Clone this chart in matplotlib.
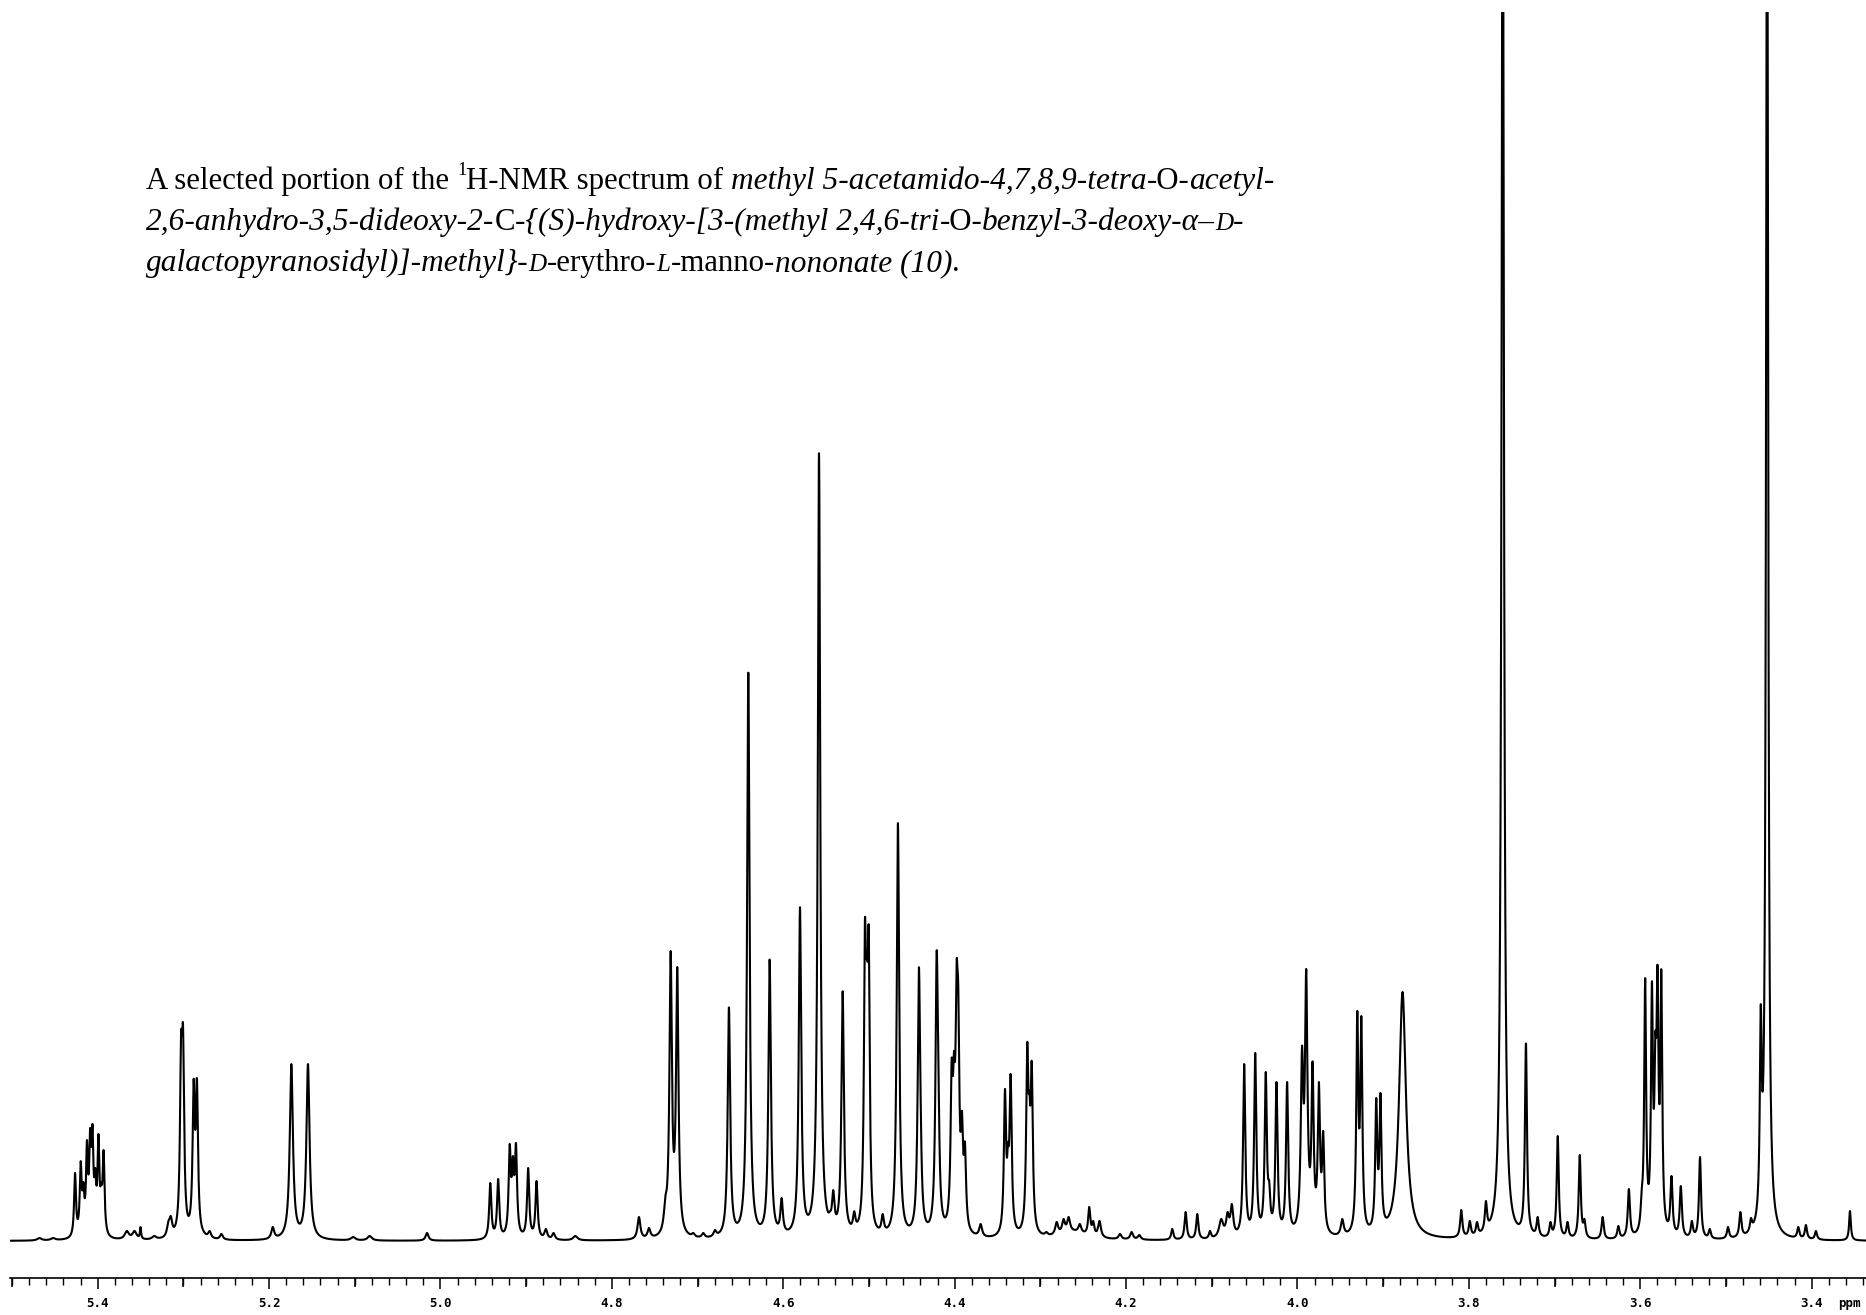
import numpy as np
import matplotlib
matplotlib.use('Agg')
import matplotlib.pyplot as plt
from matplotlib.ticker import MultipleLocator, FuncFormatter

# peak table: shift (ppm), height above baseline (plot units), half width (ppm)
peak_ppm = [5.468, 5.452,
            5.4264, 5.4198, 5.4167, 5.4125, 5.4088, 5.4061, 5.4028, 5.3991, 5.3959, 5.3931,
            5.3660, 5.3570, 5.3500, 5.3340, 5.3175, 5.3147,
            5.3027, 5.3004, 5.2880, 5.2842, 5.2764, 5.2694, 5.2556,
            5.1957, 5.1740, 5.1546, 5.1020, 5.0826, 5.0157,
            4.9419, 4.9327, 4.9192, 4.9155, 4.9119, 4.8977, 4.8879, 4.8770, 4.8680, 4.8427,
            4.7684, 4.7567, 4.7376, 4.7314, 4.7237, 4.7050, 4.6934, 4.6797,
            4.6634, 4.6408, 4.6159, 4.6019, 4.5805, 4.5630, 4.5583, 4.5455, 4.5417, 4.5307,
            4.5172, 4.5105, 4.5047, 4.5025, 4.5003, 4.4840, 4.4662, 4.4417, 4.4398,
            4.4210, 4.4191, 4.4035, 4.4008, 4.3977, 4.3958, 4.3915, 4.3880, 4.3697,
            4.3413, 4.3378, 4.3347, 4.3153, 4.3128, 4.3101,
            4.2620, 4.2930, 4.2810, 4.2730, 4.2670, 4.2540, 4.2430, 4.2383, 4.2310,
            4.2071, 4.1935, 4.1846, 4.1461, 4.1305, 4.1169, 4.1021,
            4.0890, 4.0816, 4.0766, 4.0622, 4.0493, 4.0370, 4.0330, 4.0245, 4.0121,
            3.9947, 3.9898, 3.9824, 3.9750, 3.9700, 3.9477,
            3.9302, 3.9255, 3.9081, 3.9032, 3.8774,
            3.8089, 3.7989, 3.7905, 3.7801, 3.7605, 3.7334,
            3.7197, 3.7048, 3.6963, 3.6849, 3.6706, 3.6651, 3.6439, 3.6256, 3.6133,
            3.5983, 3.5943, 3.5864, 3.5824, 3.5799, 3.5755, 3.5636, 3.5527, 3.5398,
            3.5303, 3.5189, 3.4976, 3.4832, 3.4708, 3.4594, 3.4520,
            3.4156, 3.4067, 3.3950, 3.3553]

peak_height = [3, 3,
               68, 80, 59, 101, 113, 117, 73, 107, 59, 91,
               10, 10, 14, 5, 20, 25,
               208, 216, 162, 163, 10, 10, 7,
               14, 177, 177, 4, 5, 8,
               58, 62, 97, 85, 98, 73, 60, 12, 8, 5,
               24, 13, 45, 290, 274, 8, 8, 11,
               234, 569, 282, 43, 334, 77, 791, 30, 51, 250,
               30, 24, 322, 290, 314, 27, 418, 274, 150,
               290, 190, 182, 190, 280, 255, 130, 99, 17,
               152, 99, 167, 199, 150, 180,
               12, 9, 19, 22, 24, 17, 34, 20, 20,
               7, 9, 6, 12, 29, 27, 10,
               22, 29, 37, 177, 188, 169, 60, 159, 159,
               195, 272, 180, 159, 110, 22,
               230, 225, 143, 148, 249,
               31, 20, 19, 40, 1500, 198,
               24, 19, 105, 19, 86, 22, 24, 15, 52,
               52, 263, 260, 209, 276, 272, 65, 55, 20,
               84, 12, 14, 29, 23, 237, 1500,
               14, 16, 10, 30]

peak_hw = [0.003, 0.003,
           0.0013, 0.0013, 0.0013, 0.0013, 0.0013, 0.0013, 0.0013, 0.0013, 0.0013, 0.0013,
           0.003, 0.003, 0.0008, 0.003, 0.002, 0.002,
           0.0015, 0.0015, 0.0015, 0.0015, 0.002, 0.002, 0.002,
           0.002, 0.0022, 0.0022, 0.003, 0.003, 0.002,
           0.0015, 0.0015, 0.0015, 0.0015, 0.0015, 0.0015, 0.0015, 0.002, 0.002, 0.003,
           0.002, 0.002, 0.002, 0.0017, 0.0017, 0.002, 0.002, 0.002,
           0.0017, 0.0017, 0.0017, 0.0017, 0.0017, 0.002, 0.0017, 0.0017, 0.0017, 0.0017,
           0.0017, 0.0017, 0.0014, 0.0014, 0.0014, 0.0017, 0.0017, 0.0017, 0.0015,
           0.0017, 0.0015, 0.0015, 0.0015, 0.0015, 0.0015, 0.0015, 0.0015, 0.002,
           0.0015, 0.0012, 0.0015, 0.0015, 0.0012, 0.0015,
           0.02, 0.002, 0.002, 0.002, 0.002, 0.002, 0.0015, 0.0015, 0.002,
           0.002, 0.002, 0.002, 0.0015, 0.0015, 0.0015, 0.0015,
           0.003, 0.002, 0.002, 0.0015, 0.0015, 0.0015, 0.0015, 0.0015, 0.0015,
           0.0017, 0.0017, 0.0015, 0.0015, 0.0015, 0.002,
           0.0014, 0.0014, 0.0014, 0.0014, 0.0048,
           0.0015, 0.0015, 0.0015, 0.0015, 0.0016, 0.0014,
           0.0015, 0.0015, 0.0014, 0.0015, 0.0014, 0.0015, 0.0015, 0.0015, 0.0015,
           0.0015, 0.0013, 0.0013, 0.0013, 0.0013, 0.0013, 0.0015, 0.0015, 0.0015,
           0.0014, 0.0015, 0.0015, 0.0015, 0.0015, 0.0013, 0.0014,
           0.0015, 0.0015, 0.0015, 0.0012]

tick_step = 0.2
ppm_left, ppm_right = 5.5023, 3.3366

title_lines = [
    [("A selected portion of the ", 'r'), ("1", 'sup'), ("H-NMR spectrum of ", 'r'),
     ("methyl 5-acetamido-4,7,8,9-tetra", 'i'), ("-O-", 'r'), ("acetyl-", 'i')],
    [("2,6-anhydro-3,5-dideoxy-2-", 'i'), ("C", 'r'), ("-{(S)-hydroxy-[3-(methyl 2,4,6-tri", 'i'),
     ("-O-", 'r'), ("benzyl-3-deoxy-α–", 'i'), ("D", 'sc'), ("-", 'i')],
    [("galactopyranosidyl)]-methyl}-", 'i'), ("D", 'sc'), ("-erythro-", 'r'), ("L", 'sc'),
     ("-manno-", 'r'), ("nononate (10)", 'i'), (".", 'r')],
]

# lorentzian lines; amplitudes solved so the summed trace hits the read heights
c = np.array(peak_ppm)
h = np.array(peak_height, dtype=float)
w = np.array(peak_hw)


def lor(x, c0, w0):
    return w0 ** 2 / ((x - c0) ** 2 + w0 ** 2)


A = lor(c[:, None], c[None, :], w[None, :])
amp = np.clip(np.linalg.solve(A, h), 0, None)
step = 1.0 / np.linalg.norm(A, 2) ** 2
for _ in range(3000):
    amp = np.clip(amp - step * (A.T @ (A @ amp - h)), 0, None)

ppm = np.linspace(5.51, 3.33, 14000)
spec = lor(ppm[:, None], c[None, :], w[None, :]) @ amp

W, H = 1866, 1315
fig = plt.figure(figsize=(W / 100, H / 100), dpi=100)
ax = fig.add_axes([10 / W, 37 / H, (W - 10) / W, 1266 / H])
ax.plot(ppm, spec, color='black', lw=1.5)
ax.set_xlim(ppm_left, ppm_right)
ax.set_ylim(-37, 1229)
for s in ['top', 'left', 'right']:
    ax.spines[s].set_visible(False)
ax.spines['bottom'].set_linewidth(1.2)
ax.set_yticks([])

ax.xaxis.set_major_locator(MultipleLocator(tick_step))
ax.xaxis.set_minor_locator(MultipleLocator(0.02))
ax.xaxis.set_major_formatter(FuncFormatter(lambda v, p: f'{v:.1f}'))
ax.tick_params(axis='x', which='major', length=8, width=1.1, pad=6,
               labelsize=9)
ax.tick_params(axis='x', which='minor', length=5, width=1.0)
for lab in ax.get_xticklabels():
    lab.set_fontfamily('DejaVu Sans Mono')
    lab.set_fontweight('bold')

# mid ticks at the odd tenths
mid = ax.secondary_xaxis('bottom')
mid.set_xticks(np.arange(5.5, 3.3, -0.2))
mid.tick_params(length=6.5, width=1.1, labelbottom=False)
mid.spines['bottom'].set_visible(False)

fig.text(1849 / W, 1 - 1297 / H, 'ppm', ha='center', va='top',
         family='DejaVu Sans Mono', fontweight='bold', fontsize=9)

# caption, built piece by piece (roman / italic mix)
renderer = fig.canvas.get_renderer()


def props(st, size, fi=1.0):
    kw = dict(family='Liberation Serif', fontsize=size, style='normal')
    if st == 'i':
        kw['style'] = 'italic'
        kw['fontsize'] = size * fi
    elif st == 'sup':
        kw['fontsize'] = size * 0.6
    elif st == 'sc':
        kw['style'] = 'italic'
        kw['fontsize'] = size * 0.8 * fi
    return kw


def text_w(s, kw):
    t = fig.text(0, 0, s, **kw)
    wd = t.get_window_extent(renderer).width
    t.remove()
    return wd


def seg_w(s, kw):
    core = s.rstrip(' ')
    n = len(s) - len(core)
    wd = text_w(core, kw) if core else 0
    if n:
        wd += n * (text_w('a a', kw) - text_w('aa', kw))
    return wd


# roman size from the roman lead-in of line 1, italic scale from lines 1+2
base = 20
lead = sum(seg_w(s, props(st, base)) for s, st in title_lines[0][:3])
size = base * 585 / lead
rom = sum(seg_w(s, props(st, size)) for ln in title_lines[:2] for s, st in ln if st not in ('i', 'sc'))
ital = sum(seg_w(s, props(st, size)) for ln in title_lines[:2] for s, st in ln if st in ('i', 'sc'))
fi = (1107 + 1119 - rom) / ital

baselines = [189, 230, 271]
for segs, yb in zip(title_lines, baselines):
    x = 146
    for s, st in segs:
        kw = props(st, size, fi)
        y = yb - (size * 0.45 * 100 / 72 if st == 'sup' else 0)
        fig.text(x / W, 1 - y / H, s, ha='left', va='baseline', **kw)
        x += seg_w(s, kw)

fig.savefig('out.png', dpi=100)
